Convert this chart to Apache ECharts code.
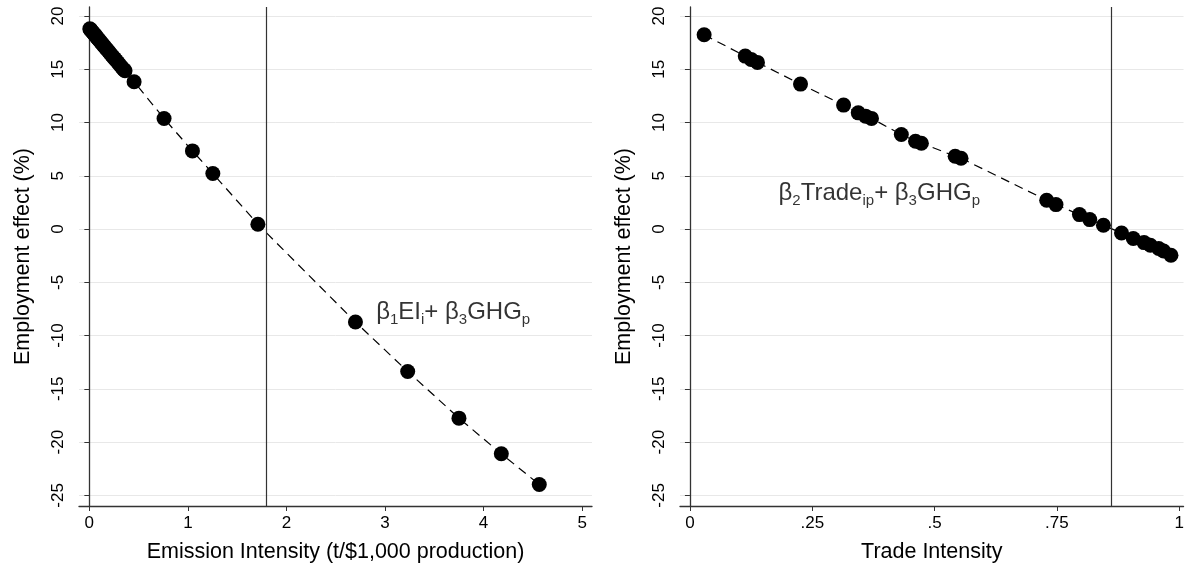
<!DOCTYPE html>
<html>
<head>
<meta charset="utf-8">
<script src="https://cdn.jsdelivr.net/npm/echarts@6/dist/echarts.min.js"></script>
<style>
html, body { margin: 0; padding: 0; background: #fff; }
#chart { width: 1187px; height: 573px; }
</style>
</head>
<body>
<div id="chart"></div>
<script>
// left panel: emission intensity vs employment effect
var eiX = [0.005, 0.01, 0.018, 0.026, 0.035, 0.044, 0.053, 0.062, 0.072, 0.083, 0.094, 0.105, 0.117, 0.13, 0.142,
    0.155, 0.168, 0.181, 0.195, 0.21, 0.225, 0.24, 0.256, 0.272, 0.29, 0.31, 0.33, 0.35, 0.362,
    0.454, 0.758, 1.046, 1.253, 1.71, 2.70, 3.23, 3.75, 4.18, 4.565];
var eiY = [18.80, 18.74, 18.66, 18.57, 18.46, 18.37, 18.26, 18.17, 18.05, 17.93, 17.80, 17.68, 17.55, 17.40, 17.27,
    17.12, 16.98, 16.83, 16.68, 16.51, 16.35, 16.18, 16.00, 15.83, 15.63, 15.41, 15.18, 14.97, 14.86,
    13.83, 10.38, 7.34, 5.22, 0.45, -8.73, -13.37, -17.75, -21.1, -23.98];
var eiCut = 1.79;

// right panel: trade intensity vs employment effect
var tiX = [0.029, 0.113, 0.125, 0.138, 0.226, 0.314, 0.344, 0.359, 0.371, 0.432, 0.461, 0.473, 0.542, 0.554,
    0.729, 0.748, 0.796, 0.817, 0.845, 0.882, 0.906, 0.928, 0.941, 0.958, 0.968, 0.983];
var tiY = [18.24, 16.24, 15.93, 15.65, 13.61, 11.64, 10.91, 10.6, 10.39, 8.88, 8.25, 8.06, 6.84, 6.65,
    2.71, 2.3, 1.36, 0.89, 0.36, -0.37, -0.89, -1.27, -1.52, -1.83, -2.06, -2.46];
var tiCut = 0.862;

var yTicks = [-25, -20, -15, -10, -5, 0, 5, 10, 15, 20];
var eiTicks = [0, 1, 2, 3, 4, 5];
var tiTicks = [0, 0.25, 0.5, 0.75, 1];
var tiTickLabels = ['0', '.25', '.5', '.75', '1'];

var eiNote = [2.91, -7.8];
var tiNote = [0.181, 3.36];

var font = 'Liberation Sans, Arial, sans-serif';

function pairs(xs, ys) {
    var out = [];
    for (var i = 0; i < xs.length; i++) out.push([xs[i], ys[i]]);
    return out;
}

var richNote = {
    t: { fontSize: 24, fontFamily: font, color: '#000', lineHeight: 30, verticalAlign: 'middle' },
    s: { fontSize: 15, fontFamily: font, color: '#000', lineHeight: 15, verticalAlign: 'bottom' }
};

function yAxisFor(idx) {
    return {
        type: 'value', gridIndex: idx, min: -26, max: 20.85,
        name: 'Employment effect (%)', nameLocation: 'middle', nameGap: 45,
        nameTextStyle: { fontSize: 21.5, fontFamily: font, color: '#000' },
        axisLine: { show: true, lineStyle: { color: '#333', width: 1.3 } },
        axisTick: { show: true, length: 5, lineStyle: { color: '#333' }, customValues: yTicks },
        axisLabel: { rotate: 90, fontSize: 17, fontFamily: font, color: '#000', margin: 12, customValues: yTicks },
        splitLine: { show: true, lineStyle: { color: '#e8e8e8', width: 1 } }
    };
}

var chartDom = document.getElementById('chart');
var myChart = echarts.init(chartDom);
var option;

option = {
    backgroundColor: '#fff',
    animation: false,
    grid: [
        { left: 79, right: 595, top: 7, bottom: 67 },
        { left: 680, right: 0, top: 7, bottom: 67 }
    ],
    xAxis: [{
        type: 'value', gridIndex: 0, min: -0.105, max: 5.1,
        name: 'Emission Intensity (t/$1,000 production)', nameLocation: 'middle', nameGap: 35,
        nameTextStyle: { fontSize: 21.5, fontFamily: font, color: '#000' },
        axisLine: { show: true, onZero: false, lineStyle: { color: '#333', width: 1.3 } },
        axisTick: { show: true, length: 5, lineStyle: { color: '#333' }, customValues: eiTicks },
        axisLabel: { fontSize: 17, fontFamily: font, color: '#000', margin: 9, customValues: eiTicks },
        splitLine: { show: false }
    }, {
        type: 'value', gridIndex: 1, min: -0.0203, max: 1.0087,
        name: 'Trade Intensity', nameLocation: 'middle', nameGap: 35,
        nameTextStyle: { fontSize: 21.5, fontFamily: font, color: '#000' },
        axisLine: { show: true, onZero: false, lineStyle: { color: '#333', width: 1.3 } },
        axisTick: { show: true, length: 5, lineStyle: { color: '#333' }, customValues: tiTicks },
        axisLabel: {
            fontSize: 17, fontFamily: font, color: '#000', margin: 9, customValues: tiTicks,
            formatter: function (v) { return tiTickLabels[tiTicks.indexOf(v)]; }
        },
        splitLine: { show: false }
    }],
    yAxis: [yAxisFor(0), yAxisFor(1)],
    series: [{
        type: 'line', xAxisIndex: 0, yAxisIndex: 0,
        data: pairs(eiX, eiY),
        symbol: 'circle', symbolSize: 15,
        itemStyle: { color: '#000' },
        lineStyle: { color: '#000', width: 1.2, type: [9, 6] },
        markLine: {
            silent: true, symbol: 'none', label: { show: false },
            lineStyle: { color: '#333', width: 1.2, type: 'solid' },
            data: [{ xAxis: eiCut }]
        }
    }, {
        type: 'scatter', xAxisIndex: 0, yAxisIndex: 0,
        data: [eiNote], symbolSize: 0,
        label: {
            show: true, position: 'right', distance: 0, color: '#000',
            formatter: '{t|β}{s|1}{t|EI}{s|i}{t|+ β}{s|3}{t|GHG}{s|p}',
            rich: richNote
        }
    }, {
        type: 'line', xAxisIndex: 1, yAxisIndex: 1,
        data: pairs(tiX, tiY),
        symbol: 'circle', symbolSize: 15,
        itemStyle: { color: '#000' },
        lineStyle: { color: '#000', width: 1.2, type: [9, 6] },
        markLine: {
            silent: true, symbol: 'none', label: { show: false },
            lineStyle: { color: '#333', width: 1.2, type: 'solid' },
            data: [{ xAxis: tiCut }]
        }
    }, {
        type: 'scatter', xAxisIndex: 1, yAxisIndex: 1,
        data: [tiNote], symbolSize: 0,
        label: {
            show: true, position: 'right', distance: 0, color: '#000',
            formatter: '{t|β}{s|2}{t|Trade}{s|ip}{t|+ β}{s|3}{t|GHG}{s|p}',
            rich: richNote
        }
    }]
};

myChart.setOption(option);
</script>
</body>
</html>
